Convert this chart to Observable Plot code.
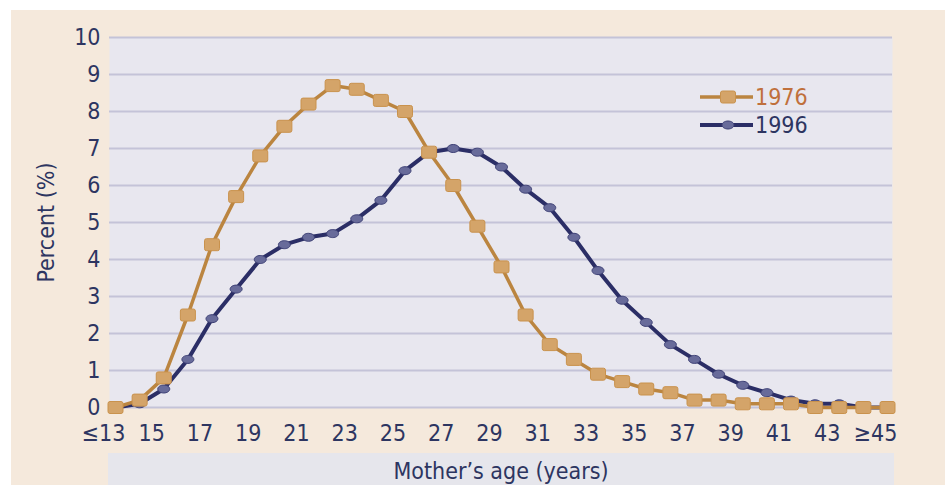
<!DOCTYPE html>
<html>
<head>
<meta charset="utf-8">
<script src="https://cdn.jsdelivr.net/npm/d3@7"></script>
<script src="https://cdn.jsdelivr.net/npm/@observablehq/plot@0.6"></script>
<style>
  html, body { margin: 0; padding: 0; background: #ffffff; }
  #wrap { position: relative; width: 945px; height: 485px; overflow: hidden; }
  #panel { position: absolute; left: 11px; top: 10px; width: 934px; height: 475px; background: #f5e9dc; }
  #band { position: absolute; left: 108px; top: 453px; width: 786px; height: 32px; background: #e6e6ec; }
  #chart { position: absolute; left: 0; top: 0; }
  #legend { position: absolute; left: 0; top: 0; pointer-events: none; }
</style>
</head>
<body>
<div id="wrap">
  <div id="panel"></div>
  <div id="band"></div>
  <div id="chart"></div>
  <svg id="legend" width="945" height="485"></svg>
</div>
<script>
// ---- data ----
const ages = [13,14,15,16,17,18,19,20,21,22,23,24,25,26,27,28,29,30,31,32,33,34,35,36,37,38,39,40,41,42,43,44,45];
const pct1976 = [0.0,0.2,0.8,2.5,4.4,5.7,6.8,7.6,8.2,8.7,8.6,8.3,8.0,6.9,6.0,4.9,3.8,2.5,1.7,1.3,0.9,0.7,0.5,0.4,0.2,0.2,0.1,0.1,0.1,0.0,0.0,0.0,0.0];
const pct1996 = [0.0,0.1,0.5,1.3,2.4,3.2,4.0,4.4,4.6,4.7,5.1,5.6,6.4,6.9,7.0,6.9,6.5,5.9,5.4,4.6,3.7,2.9,2.3,1.7,1.3,0.9,0.6,0.4,0.2,0.1,0.1,0.0,0.0];
const xTicks = [13,15,17,19,21,23,25,27,29,31,33,35,37,39,41,43,45];
const xTickLabels = ["≤13","15","17","19","21","23","25","27","29","31","33","35","37","39","41","43","≥45"];
const yTicks = [0,1,2,3,4,5,6,7,8,9,10];
const seriesNames = ["1976","1996"];
const xLabel = "Mother’s age (years)";
const yLabel = "Percent (%)";

const rows1976 = ages.map((a, i) => ({age: a, value: pct1976[i]}));
const rows1996 = ages.map((a, i) => ({age: a, value: pct1996[i]}));

// custom symbols
const ellipseSym = {
  draw(ctx, size) {
    const rx = 6, ry = 4, k = 0.5523;
    ctx.moveTo(rx, 0);
    ctx.bezierCurveTo(rx, ry * k, rx * k, ry, 0, ry);
    ctx.bezierCurveTo(-rx * k, ry, -rx, ry * k, -rx, 0);
    ctx.bezierCurveTo(-rx, -ry * k, -rx * k, -ry, 0, -ry);
    ctx.bezierCurveTo(rx * k, -ry, rx, -ry * k, rx, 0);
    ctx.closePath();
  }
};
const rrectSym = {
  draw(ctx, size) {
    const w = 7.5, h = 6, r = 2;
    ctx.moveTo(-w + r, -h);
    ctx.lineTo(w - r, -h);
    ctx.arcTo(w, -h, w, -h + r, r);
    ctx.lineTo(w, h - r);
    ctx.arcTo(w, h, w - r, h, r);
    ctx.lineTo(-w + r, h);
    ctx.arcTo(-w, h, -w, h - r, r);
    ctx.lineTo(-w, -h + r);
    ctx.arcTo(-w, -h, -w + r, -h, r);
    ctx.closePath();
  }
};

const fontFam = "'Liberation Sans Narrow', 'DejaVu Sans Condensed', Roboto, sans-serif";
const navyText = "#2d3561";

const chart = Plot.plot({
  width: 945,
  height: 485,
  marginLeft: 109,
  marginRight: 53,
  marginTop: 37,
  marginBottom: 78,
  style: {background: "transparent", fontFamily: fontFam, fontSize: "23px", color: navyText},
  x: {type: "linear", domain: [13, 45], insetLeft: 6, insetRight: 5},
  y: {domain: [0, 10]},
  marks: [
    Plot.frame({fill: "#e8e7ef", stroke: null}),
    Plot.gridY(yTicks, {stroke: "#c4c3d8", strokeOpacity: 1, strokeWidth: 2}),
    Plot.axisY(yTicks, {tickSize: 0, tickPadding: 9, fontSize: 23, label: yLabel, labelAnchor: "center", labelOffset: 72, labelArrow: "none"}),
    Plot.axisX(xTicks, {tickSize: 0, tickPadding: 17, dx: -12, fontSize: 23,
      tickFormat: (d) => xTickLabels[xTicks.indexOf(d)],
      label: xLabel, labelAnchor: "center", labelOffset: 71, labelArrow: "none"}),
    Plot.line(rows1996, {x: "age", y: "value", stroke: "#2b2e66", strokeWidth: 4}),
    Plot.dot(rows1996, {x: "age", y: "value", symbol: ellipseSym, r: 5, fill: "#686b9a", stroke: "#3d4075", strokeWidth: 1}),
    Plot.line(rows1976, {x: "age", y: "value", stroke: "#bb8540", strokeWidth: 3.5}),
    Plot.dot(rows1976, {x: "age", y: "value", symbol: rrectSym, r: 5, fill: "#d4a469", stroke: "#c9924d", strokeWidth: 1})
  ]
});
document.getElementById("chart").appendChild(chart);

// legend overlay
const lg = d3.select("#legend");
const legendItems = [
  {name: seriesNames[0], line: "#bb8540", lw: 3.5, fill: "#d4a469", stroke: "#c9924d", sym: rrectSym, text: "#c0703c", y: 97},
  {name: seriesNames[1], line: "#2b2e66", lw: 4, fill: "#686b9a", stroke: "#3d4075", sym: ellipseSym, text: navyText, y: 125}
];
for (const it of legendItems) {
  lg.append("line").attr("x1", 700).attr("x2", 753).attr("y1", it.y).attr("y2", it.y)
    .attr("stroke", it.line).attr("stroke-width", it.lw);
  const p = d3.path(); it.sym.draw(p, 0);
  lg.append("path").attr("d", p.toString()).attr("transform", `translate(728,${it.y})`)
    .attr("fill", it.fill).attr("stroke", it.stroke).attr("stroke-width", 1);
  lg.append("text").attr("x", 755).attr("y", it.y + 8).attr("fill", it.text)
    .attr("font-size", 23).attr("font-family", fontFam).text(it.name);
}
</script>
</body>
</html>
